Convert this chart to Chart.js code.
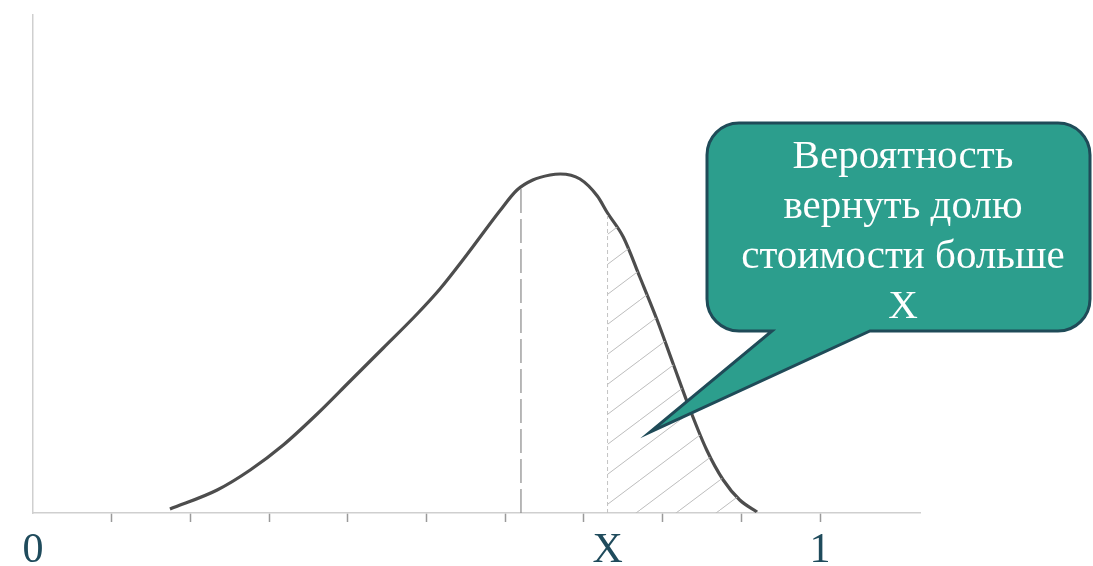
<!DOCTYPE html>
<html lang="ru">
<head>
  <meta charset="UTF-8">
  <title>Вероятность вернуть долю стоимости</title>
  <script src="https://cdn.jsdelivr.net/npm/chart.js"></script>
  <style>
    body { margin: 0; background: #ffffff; }
    #wrap { width: 1093px; height: 566px; }
  </style>
</head>
<body>
  <div id="wrap"><canvas id="graphique" width="1093" height="566"></canvas></div>

  <script>
    // доля стоимости (ось X) и плотность (ось Y)
    const xVals = [0.174, 0.234, 0.276, 0.318, 0.361, 0.403, 0.445, 0.488, 0.517, 0.551, 0.593, 0.615, 0.635,
                   0.657, 0.670, 0.695, 0.717, 0.730, 0.750, 0.771, 0.793, 0.813, 0.835, 0.856, 0.877, 0.898, 0.920];
    const yVals = [0.04, 0.23, 0.43, 0.68, 0.99, 1.32, 1.65, 1.99, 2.24, 2.58, 3.02, 3.23, 3.33,
                   3.38, 3.39, 3.34, 3.17, 3.00, 2.76, 2.36, 1.93, 1.50, 1.03, 0.63, 0.33, 0.13, 0.01];

    const seuilX = 0.73;      // X
    const seuilY = 3.00;      // высота кривой в X
    const modeX = 0.62;       // пунктир под вершиной
    const modeY = 3.26;

    const tickVals = [0, 0.1, 0.2, 0.3, 0.4, 0.5, 0.6, 0.7, 0.8, 0.9, 1, seuilX];
    const tickLabels = { 0: '0', 1: '1' };
    tickLabels[seuilX] = 'X';

    const calloutLines = ['Вероятность', 'вернуть долю', 'стоимости больше', 'X'];

    const courbe = xVals.map((x, i) => ({ x: x, y: yVals[i] }));
    const queue = courbe.filter(p => p.x >= seuilX);

    // штриховка
    function hachures() {
      const t = document.createElement('canvas');
      t.width = 40; t.height = 30;
      const c = t.getContext('2d');
      c.strokeStyle = '#bdbdbd';
      c.lineWidth = 1;
      c.beginPath();
      c.moveTo(-4, 33);
      c.lineTo(44, -3);
      c.stroke();
      return c.createPattern(t, 'repeat');
    }

    const callout = {
      id: 'callout',
      afterDraw(chart) {
        const c = chart.ctx;
        const l = 707, t = 123, r = 1090, b = 331, rad = 32;
        c.save();
        c.beginPath();
        c.moveTo(l + rad, t);
        c.lineTo(r - rad, t);
        c.arcTo(r, t, r, t + rad, rad);
        c.lineTo(r, b - rad);
        c.arcTo(r, b, r - rad, b, rad);
        c.lineTo(870, b);
        c.lineTo(650, 432);
        c.lineTo(772, b);
        c.lineTo(l + rad, b);
        c.arcTo(l, b, l, b - rad, rad);
        c.lineTo(l, t + rad);
        c.arcTo(l, t, l + rad, t, rad);
        c.closePath();
        c.fillStyle = '#2c9e8d';
        c.fill();
        c.lineWidth = 3;
        c.strokeStyle = '#1f4b58';
        c.lineJoin = 'miter';
        c.stroke();

        c.fillStyle = '#ffffff';
        c.font = '41px "Liberation Serif"';
        c.textAlign = 'center';
        c.textBaseline = 'middle';
        calloutLines.forEach((s, i) => c.fillText(s, 903, 157 + i * 50));
        c.restore();
      }
    };

    new Chart(document.getElementById('graphique'), {
      type: 'line',
      data: {
        datasets: [
          {
            data: queue,
            borderWidth: 0,
            backgroundColor: hachures(),
            fill: 'origin',
            pointRadius: 0,
            cubicInterpolationMode: 'monotone'
          },
          {
            data: [{ x: seuilX, y: 0 }, { x: seuilX, y: seuilY }],
            borderColor: '#c4c4c4',
            borderWidth: 1,
            borderDash: [4, 3],
            pointRadius: 0
          },
          {
            data: [{ x: modeX, y: 0 }, { x: modeX, y: modeY }],
            borderColor: '#8a8a8a',
            borderWidth: 1.2,
            borderDash: [24, 6],
            pointRadius: 0
          },
          {
            data: courbe,
            borderColor: '#4d4d4d',
            borderWidth: 3.2,
            fill: false,
            pointRadius: 0,
            cubicInterpolationMode: 'monotone'
          }
        ]
      },
      options: {
        responsive: false,
        animation: false,
        layout: { padding: { left: 33, right: 173, top: 15, bottom: 0 } },
        plugins: { legend: { display: false }, tooltip: { enabled: false } },
        scales: {
          x: {
            type: 'linear',
            min: 0,
            max: 1.127,
            afterBuildTicks: s => { s.ticks = tickVals.map(v => ({ value: v })); },
            afterFit: s => { s.height = 53; },
            grid: {
              drawOnChartArea: false,
              drawTicks: true,
              tickLength: 9,
              tickWidth: 1.5,
              tickColor: ctx => (ctx.tick && (ctx.tick.value === 0 || ctx.tick.value === seuilX)) ? 'rgba(0,0,0,0)' : '#9a9a9a'
            },
            border: { display: true, color: '#cfcfcf', width: 1.5 },
            ticks: {
              autoSkip: false,
              maxRotation: 0,
              padding: 4,
              color: '#1f4b5c',
              font: { family: 'Liberation Serif', size: 42 },
              callback: v => tickLabels[v] || ''
            }
          },
          y: {
            min: 0,
            max: 4.98,
            afterFit: s => { s.width = 0; },
            grid: { display: false },
            border: { display: true, color: '#cfcfcf', width: 1.5 },
            ticks: { display: false }
          }
        }
      },
      plugins: [callout]
    });
  </script>
</body>
</html>
